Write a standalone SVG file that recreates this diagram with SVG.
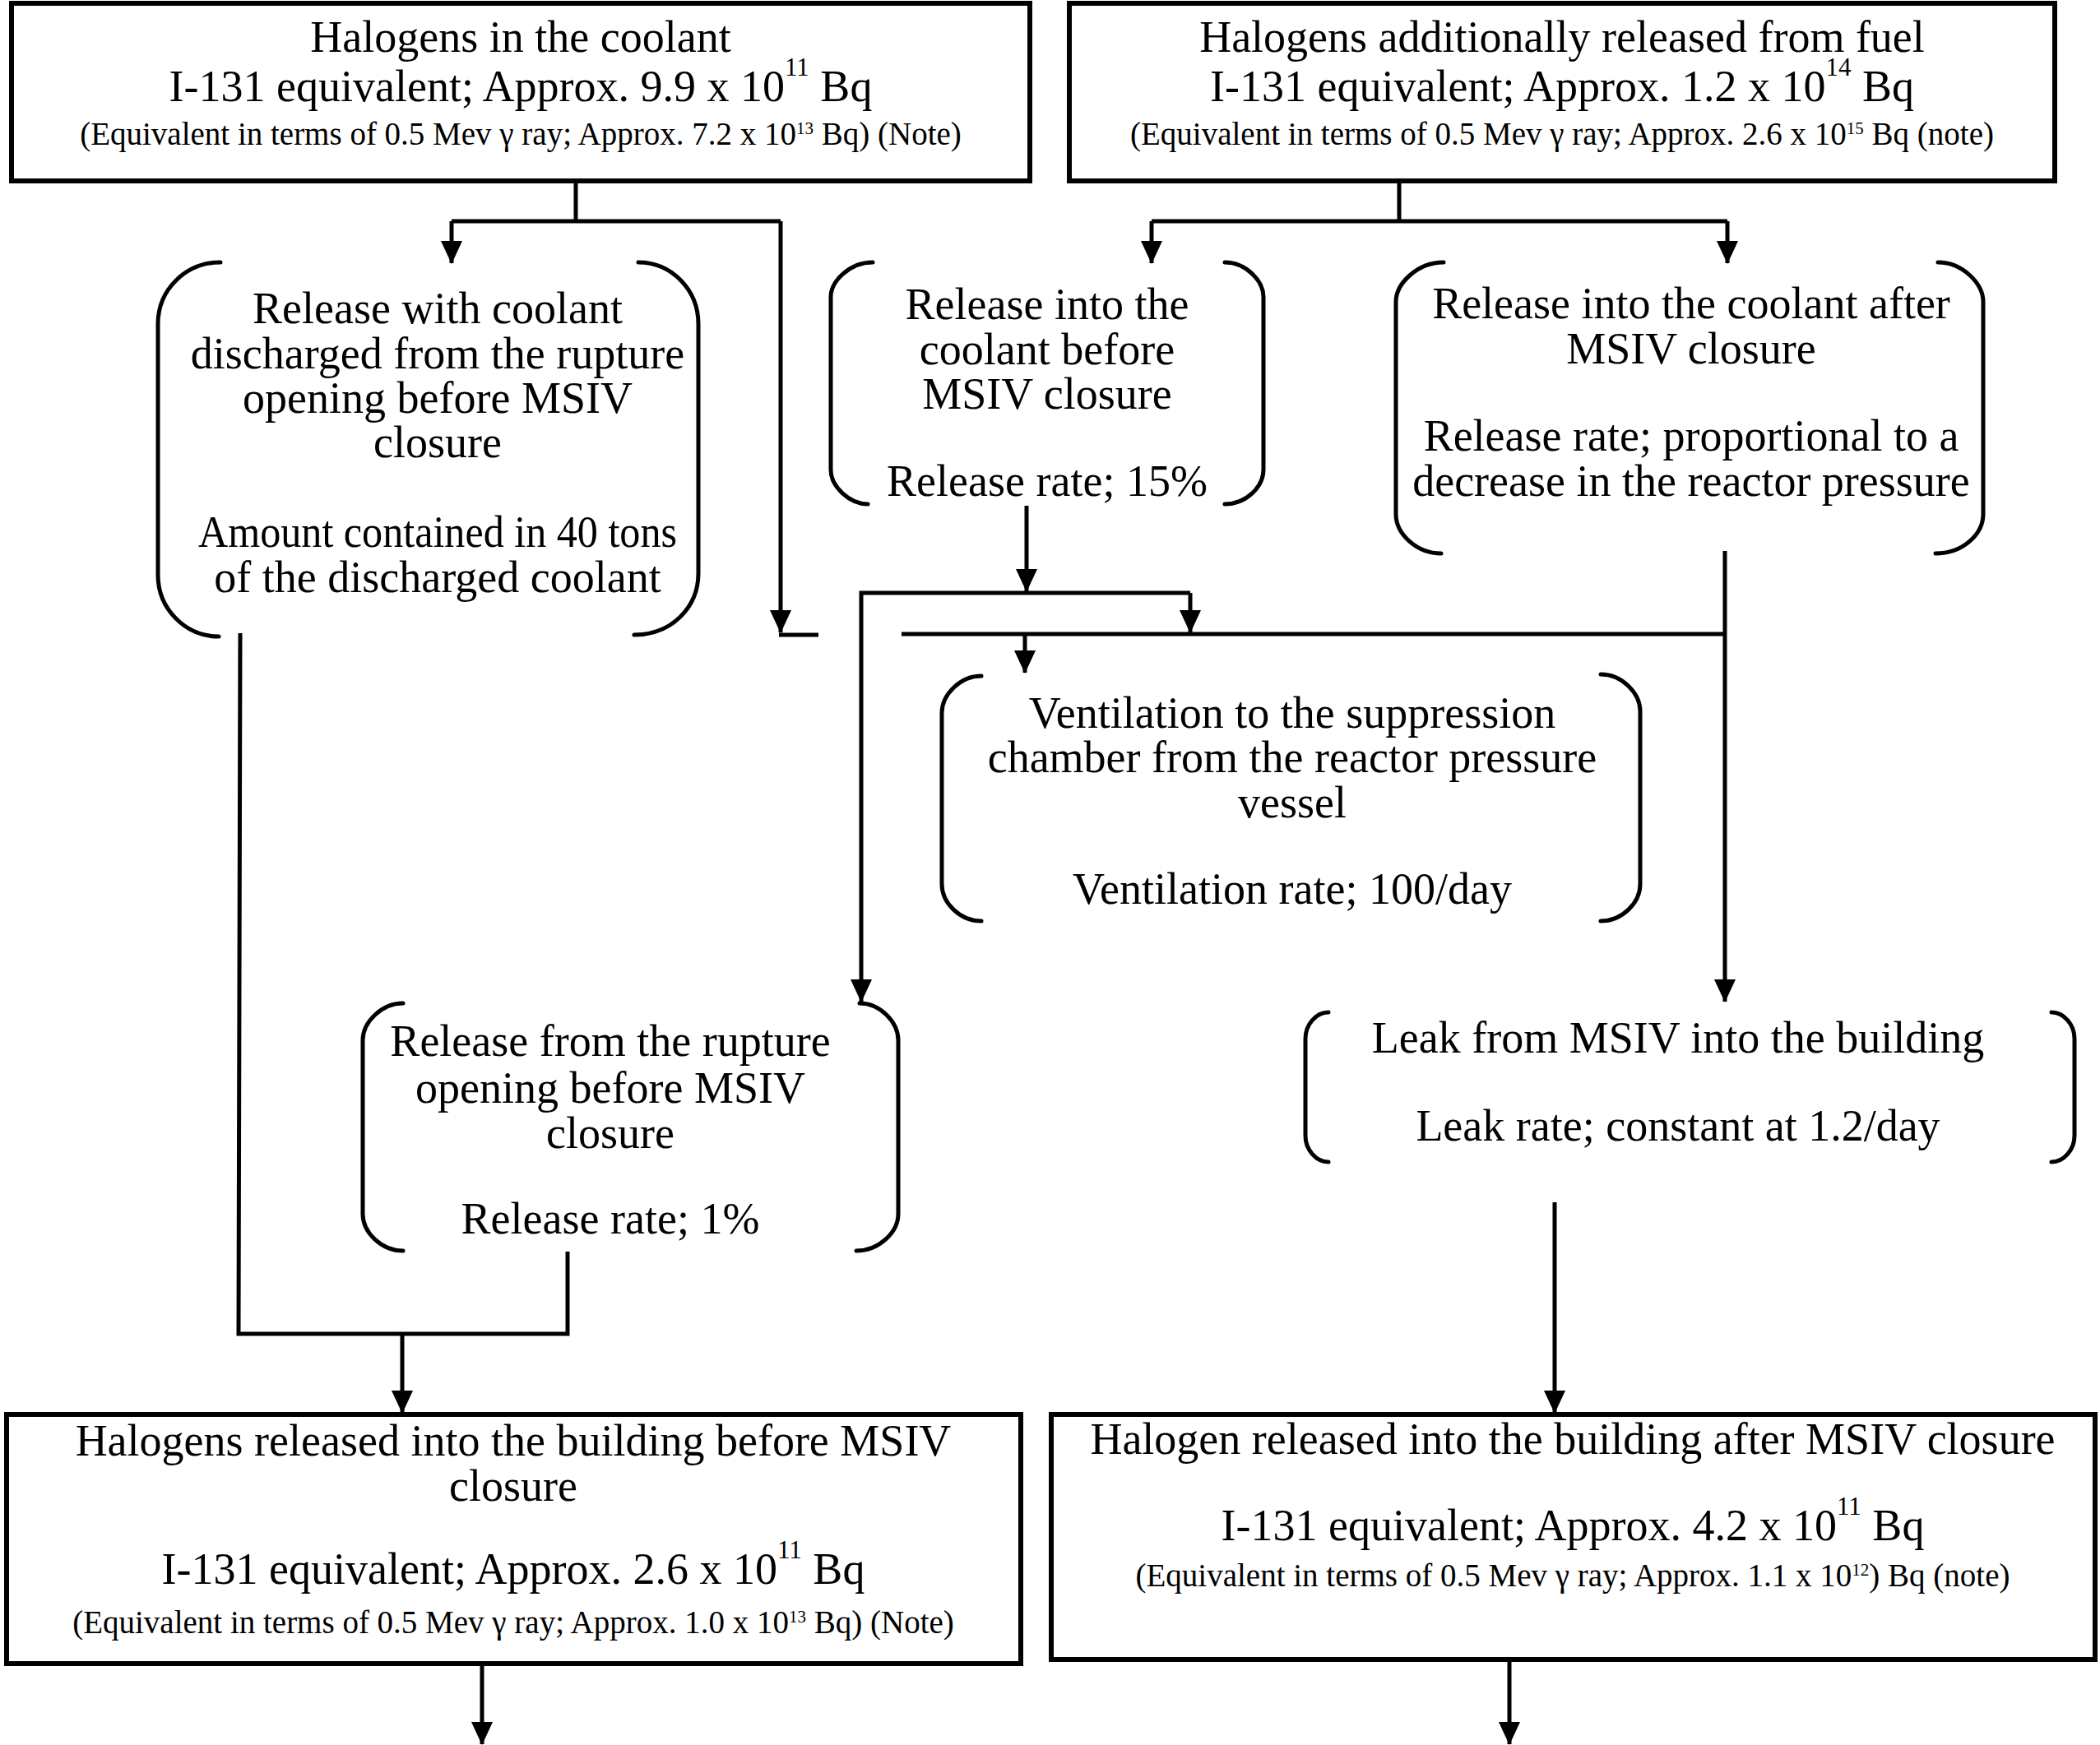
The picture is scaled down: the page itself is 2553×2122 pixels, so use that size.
<svg xmlns="http://www.w3.org/2000/svg" width="2553" height="2122" viewBox="0 0 2553 2122">
<style>
text{font-family:"Liberation Serif","Times New Roman",serif;fill:#000;text-anchor:middle}
.m{font-size:54px}
.s{font-size:39px}
.sup{font-size:31px}
.ss{font-size:21px}
.box{fill:#fff;stroke:#000;stroke-width:6}
.br{fill:none;stroke:#000;stroke-width:5;stroke-linecap:round}
.c{fill:none;stroke:#000;stroke-width:5}
</style>
<defs>
<marker id="ah" markerUnits="userSpaceOnUse" markerWidth="28" markerHeight="26" viewBox="0 0 28 26" refX="27" refY="13" orient="auto">
<path d="M0,0 L28,13 L0,26 z" fill="#000"/>
</marker>
</defs>
<rect width="2553" height="2122" fill="#fff"/>

<g id="connectors">
<path class="c" d="M700,220 V269"/>
<path class="c" d="M549,269 H949"/>
<path class="c" d="M549,269 V320" marker-end="url(#ah)"/>
<path class="c" d="M949,269 V769" marker-end="url(#ah)"/>
<path class="c" d="M947,772 H995"/>
<path class="c" d="M1701,220 V269"/>
<path class="c" d="M1400,269 H2100"/>
<path class="c" d="M1400,269 V320" marker-end="url(#ah)"/>
<path class="c" d="M2100,269 V320" marker-end="url(#ah)"/>
<path class="c" d="M1248,615 V719" marker-end="url(#ah)"/>
<path class="c" d="M1447,721 H1047 V1218" marker-end="url(#ah)"/>
<path class="c" d="M1447,721 V769" marker-end="url(#ah)"/>
<path class="c" d="M1096,771 H2097"/>
<path class="c" d="M1246,771 V818" marker-end="url(#ah)"/>
<path class="c" d="M2097,670 V1218" marker-end="url(#ah)"/>
<path class="c" d="M292,770 L290,1622 H690 V1522"/>
<path class="c" d="M489,1622 V1718" marker-end="url(#ah)"/>
<path class="c" d="M1890,1462 V1718" marker-end="url(#ah)"/>
<path class="c" d="M586,2023 V2121" marker-end="url(#ah)"/>
<path class="c" d="M1835,2018 V2121" marker-end="url(#ah)"/>
</g>

<g id="n-halogens-coolant">
<rect class="box" x="14" y="4" width="1238" height="216"/>
<text class="m" x="633" y="63">Halogens in the coolant</text>
<text class="m" x="633" y="123">I-131 equivalent; Approx. 9.9 x 10<tspan class="sup" dy="-31">11</tspan><tspan dy="31"> Bq</tspan></text>
<text class="s" x="633" y="176">(Equivalent in terms of 0.5 Mev γ ray; Approx. 7.2 x 10<tspan class="ss" dy="-13">13</tspan><tspan dy="13"> Bq) (Note)</tspan></text>
</g>

<g id="n-halogens-fuel">
<rect class="box" x="1300" y="4" width="1198" height="216"/>
<text class="m" x="1899" y="63">Halogens additionally released from fuel</text>
<text class="m" x="1899" y="123">I-131 equivalent; Approx. 1.2 x 10<tspan class="sup" dy="-31">14</tspan><tspan dy="31"> Bq</tspan></text>
<text class="s" x="1899" y="176">(Equivalent in terms of 0.5 Mev γ ray; Approx. 2.6 x 10<tspan class="ss" dy="-13">15</tspan><tspan dy="13"> Bq (note)</tspan></text>
</g>

<g id="n-release-with-coolant">
<path class="br" d="M268,319 C226,319 192,352 192,394 L192,699 C192,741 226,774 266,774"/>
<path class="br" d="M776,319 C816,319 849,352 849,394 L849,697 C849,739 816,772 771,772"/>
<text class="m" x="532" y="393">Release with coolant</text>
<text class="m" x="532" y="448">discharged from the rupture</text>
<text class="m" x="532" y="502">opening before MSIV</text>
<text class="m" x="532" y="556">closure</text>
<text class="m" x="532" y="665" textLength="582" lengthAdjust="spacingAndGlyphs">Amount contained in 40 tons</text>
<text class="m" x="532" y="720">of the discharged coolant</text>
</g>

<g id="n-release-before">
<path class="br" d="M1061,319 C1033,319 1010,342 1010,361 L1010,571 C1010,592 1033,613 1055,613"/>
<path class="br" d="M1489,319 C1515,319 1536,342 1536,361 L1536,571 C1536,592 1515,613 1489,613"/>
<text class="m" x="1273" y="388">Release into the</text>
<text class="m" x="1273" y="443">coolant before</text>
<text class="m" x="1273" y="497">MSIV closure</text>
<text class="m" x="1273" y="603">Release rate; 15%</text>
</g>

<g id="n-release-after">
<path class="br" d="M1755,319 C1723,319 1697,345 1697,367 L1697,625 C1697,650 1723,673 1752,673"/>
<path class="br" d="M2356,319 C2386,319 2411,345 2411,367 L2411,625 C2411,650 2386,673 2353,673"/>
<text class="m" x="2056" y="387">Release into the coolant after</text>
<text class="m" x="2056" y="442">MSIV closure</text>
<text class="m" x="2056" y="548">Release rate; proportional to a</text>
<text class="m" x="2056" y="603">decrease in the reactor pressure</text>
</g>

<g id="n-ventilation">
<path class="br" d="M1193,822 C1167,822 1145,845 1145,867 L1145,1075 C1145,1098 1167,1120 1193,1120"/>
<path class="br" d="M1946,820 C1972,820 1994,843 1994,865 L1994,1075 C1994,1098 1972,1120 1946,1120"/>
<text class="m" x="1571" y="885">Ventilation to the suppression</text>
<text class="m" x="1571" y="939">chamber from the reactor pressure</text>
<text class="m" x="1571" y="994">vessel</text>
<text class="m" x="1571" y="1099">Ventilation rate; 100/day</text>
</g>

<g id="n-release-rupture">
<path class="br" d="M490,1220 C464,1220 441,1243 441,1265 L441,1476 C441,1499 464,1521 490,1521"/>
<path class="br" d="M1045,1220 C1070,1220 1092,1243 1092,1265 L1092,1476 C1092,1499 1068,1521 1041,1521"/>
<text class="m" x="742" y="1284">Release from the rupture</text>
<text class="m" x="742" y="1341">opening before MSIV</text>
<text class="m" x="742" y="1396">closure</text>
<text class="m" x="742" y="1500">Release rate; 1%</text>
</g>

<g id="n-leak">
<path class="br" d="M1615,1231 C1600,1231 1587,1246 1587,1263 L1587,1381 C1587,1398 1600,1413 1615,1413"/>
<path class="br" d="M2494,1231 C2509,1231 2522,1246 2522,1263 L2522,1381 C2522,1398 2509,1413 2494,1413"/>
<text class="m" x="2040" y="1280">Leak from MSIV into the building</text>
<text class="m" x="2040" y="1387">Leak rate; constant at 1.2/day</text>
</g>

<g id="n-building-before">
<rect class="box" x="8" y="1720" width="1233" height="303"/>
<text class="m" x="624" y="1770">Halogens released into the building before MSIV</text>
<text class="m" x="624" y="1825">closure</text>
<text class="m" x="624" y="1926">I-131 equivalent; Approx. 2.6 x 10<tspan class="sup" dy="-31">11</tspan><tspan dy="31"> Bq</tspan></text>
<text class="s" x="624" y="1986">(Equivalent in terms of 0.5 Mev γ ray; Approx. 1.0 x 10<tspan class="ss" dy="-13">13</tspan><tspan dy="13"> Bq) (Note)</tspan></text>
</g>

<g id="n-building-after">
<rect class="box" x="1278" y="1720" width="1269" height="298"/>
<text class="m" x="1912" y="1768">Halogen released into the building after MSIV closure</text>
<text class="m" x="1912" y="1873">I-131 equivalent; Approx. 4.2 x 10<tspan class="sup" dy="-31">11</tspan><tspan dy="31"> Bq</tspan></text>
<text class="s" x="1912" y="1929">(Equivalent in terms of 0.5 Mev γ ray; Approx. 1.1 x 10<tspan class="ss" dy="-13">12</tspan><tspan dy="13">) Bq (note)</tspan></text>
</g>
</svg>
